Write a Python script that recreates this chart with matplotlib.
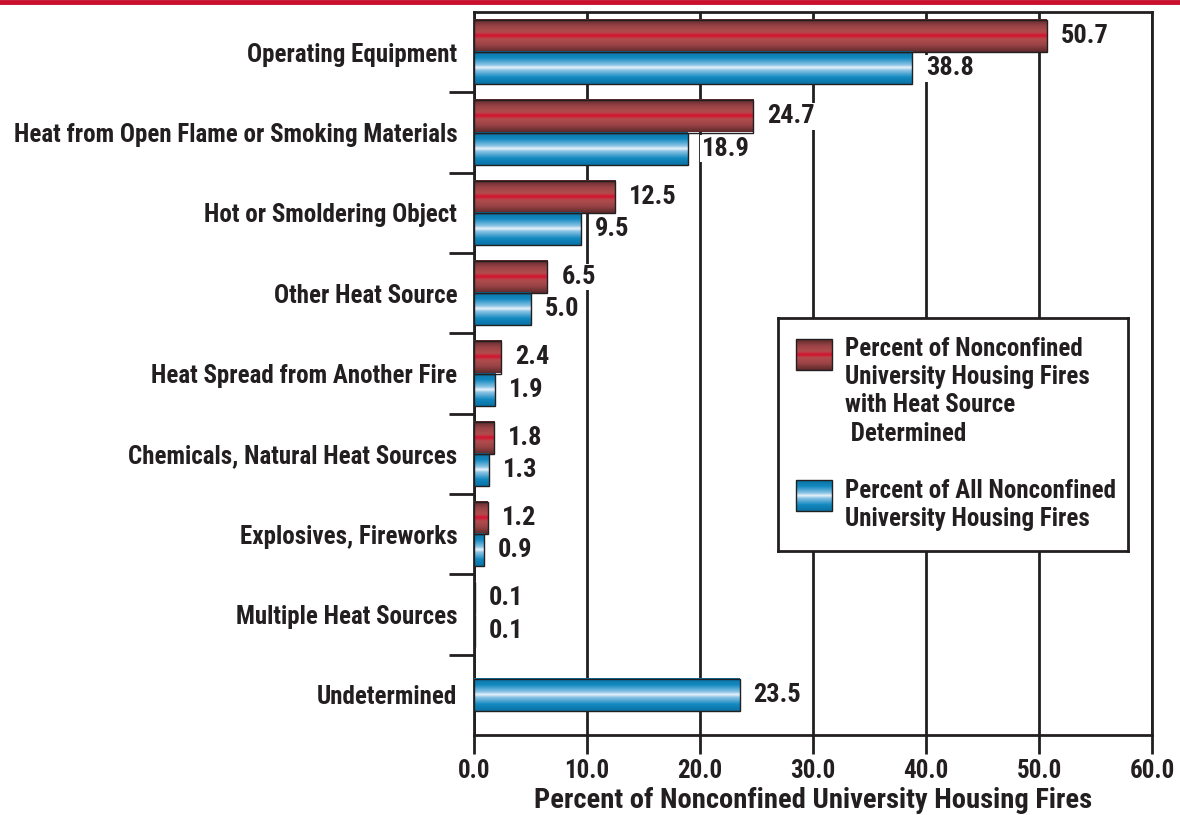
import numpy as np
import matplotlib
matplotlib.use("Agg")
from matplotlib import pyplot as plt
from matplotlib import font_manager as fm
from matplotlib.lines import Line2D
from matplotlib.patches import Rectangle

# narrow bold face, first one that is installed with a bold weight
prefs = ['Archivo Narrow', 'Roboto Condensed', 'Barlow Semi Condensed', 'Barlow Condensed']
have = {}
for f in fm.fontManager.ttflist:
    w = f.weight if isinstance(f.weight, int) else 700
    have[f.name] = max(have.get(f.name, 0), w)
face = next((p for p in prefs if have.get(p, 0) >= 600), 'DejaVu Sans')
plt.rcParams['font.family'] = [face, 'DejaVu Sans']
plt.rcParams['font.weight'] = 'bold'
plt.rcParams['axes.labelweight'] = 'bold'

categories = ["Operating Equipment",
              "Heat from Open Flame or Smoking Materials",
              "Hot or Smoldering Object",
              "Other Heat Source",
              "Heat Spread from Another Fire",
              "Chemicals, Natural Heat Sources",
              "Explosives, Fireworks",
              "Multiple Heat Sources",
              "Undetermined"]
# percent of fires with heat source determined (None = not shown)
determined = [50.7, 24.7, 12.5, 6.5, 2.4, 1.8, 1.2, 0.1, None]
# percent of all nonconfined fires
all_fires = [38.8, 18.9, 9.5, 5.0, 1.9, 1.3, 0.9, 0.1, 23.5]
xticks = [0, 10, 20, 30, 40, 50, 60]

legend_labels = ["Percent of Nonconfined\nUniversity Housing Fires\nwith Heat Source\n Determined",
                 "Percent of All Nonconfined\nUniversity Housing Fires"]

txt = "#231f20"
fs = 18


# cylinder-like shading, rows go top -> bottom
def shade(stops):
    pos = [s[0] for s in stops]
    cols = np.array([matplotlib.colors.to_rgb(s[1]) for s in stops])
    t = np.linspace(0, 1, 64)
    img = np.stack([np.interp(t, pos, cols[:, k]) for k in range(3)], axis=1)
    return img[:, None, :]


red_img = shade([(0, "#5e2a2c"), (0.22, "#9c4446"), (0.4, "#b24c4e"), (0.46, "#c8283a"),
                 (0.5, "#d4102c"), (0.54, "#c8283a"), (0.6, "#b24c4e"), (0.78, "#9c4446"),
                 (1, "#5e2a2c")])
blue_img = shade([(0, "#0a72a4"), (0.2, "#1389c0"), (0.42, "#8cc4e6"), (0.5, "#eaf4fb"),
                  (0.58, "#8cc4e6"), (0.8, "#1389c0"), (1, "#0a72a4")])

fig = plt.figure(figsize=(11.8, 8.15), dpi=100)
ax = fig.add_axes([474 / 1180, 80 / 815, 678 / 1180, 723 / 815])

# red rule at the top of the page
fig.add_artist(Line2D([0, 1], [0.9975, 0.9975], transform=fig.transFigure,
                      color="#c8102e", lw=3.5))

bh = 0.4


def gbar(x, yc, img):
    if x is None or x <= 0:
        return
    y0, y1 = yc - bh / 2, yc + bh / 2
    ax.imshow(img, extent=(0, x, y1, y0), aspect='auto', zorder=3, interpolation='bilinear')
    ax.add_patch(Rectangle((0, y0), x, bh, fill=False, ec="#231f20", lw=1.0, zorder=4))


def vlabel(x, yc):
    ax.annotate(f"{x:.1f}", (x, yc), xytext=(10, 0), textcoords="offset points",
                ha="left", va="center", fontsize=19, color=txt, zorder=5,
                bbox=dict(boxstyle="square,pad=0.05", fc="white", ec="none"))


for i, (d, a) in enumerate(zip(determined, all_fires)):
    if d is None:
        gbar(a, i + 0.5, blue_img)
        vlabel(a, i + 0.5)
    else:
        gbar(d, i + 0.3, red_img)
        gbar(a, i + 0.7, blue_img)
        vlabel(d, i + 0.3)
        vlabel(a, i + 0.7)

ax.set_xlim(0, 60)
ax.set_ylim(len(categories), 0)
ax.set_xticks(xticks)
ax.set_xticklabels([f"{v:.1f}" for v in xticks], fontsize=fs, color=txt)
ax.set_yticks(range(1, len(categories)))
ax.set_yticklabels([])
ax.set_yticks([i + 0.5 for i in range(len(categories))], minor=True)
ax.set_yticklabels(categories, minor=True, fontsize=fs, color=txt)
ax.tick_params(axis="y", which="minor", length=0, pad=12)
ax.tick_params(axis="y", which="major", length=18, width=2, color=txt)
ax.tick_params(axis="x", length=14, width=2, color=txt, pad=3)
ax.xaxis.grid(True, color=txt, lw=2, zorder=1)
ax.set_axisbelow(True)
for s in ax.spines.values():
    s.set_color(txt)
    s.set_linewidth(2)
ax.set_xlabel("Percent of Nonconfined University Housing Fires", fontsize=20.5,
              color=txt, labelpad=3)

# legend box drawn by hand so the swatches keep the shading
lax = fig.add_axes([778 / 1180, (815 - 551) / 815, 350 / 1180, 233 / 815])
lax.set_xlim(0, 350)
lax.set_ylim(233, 0)
lax.set_xticks([])
lax.set_yticks([])
for s in lax.spines.values():
    s.set_color(txt)
    s.set_linewidth(2)
lax.imshow(red_img, extent=(18, 54, 52, 21), aspect='auto', interpolation='bilinear')
lax.add_patch(Rectangle((18, 21), 36, 31, fill=False, ec=txt, lw=1))
lax.imshow(blue_img, extent=(18, 54, 193, 162), aspect='auto', interpolation='bilinear')
lax.add_patch(Rectangle((18, 162), 36, 31, fill=False, ec=txt, lw=1))
lax.text(67, 19, legend_labels[0], va="top", ha="left", fontsize=fs, color=txt,
         linespacing=1.22)
lax.text(67, 161, legend_labels[1], va="top", ha="left", fontsize=fs, color=txt,
         linespacing=1.22)

fig.savefig("out.png", dpi=100)
